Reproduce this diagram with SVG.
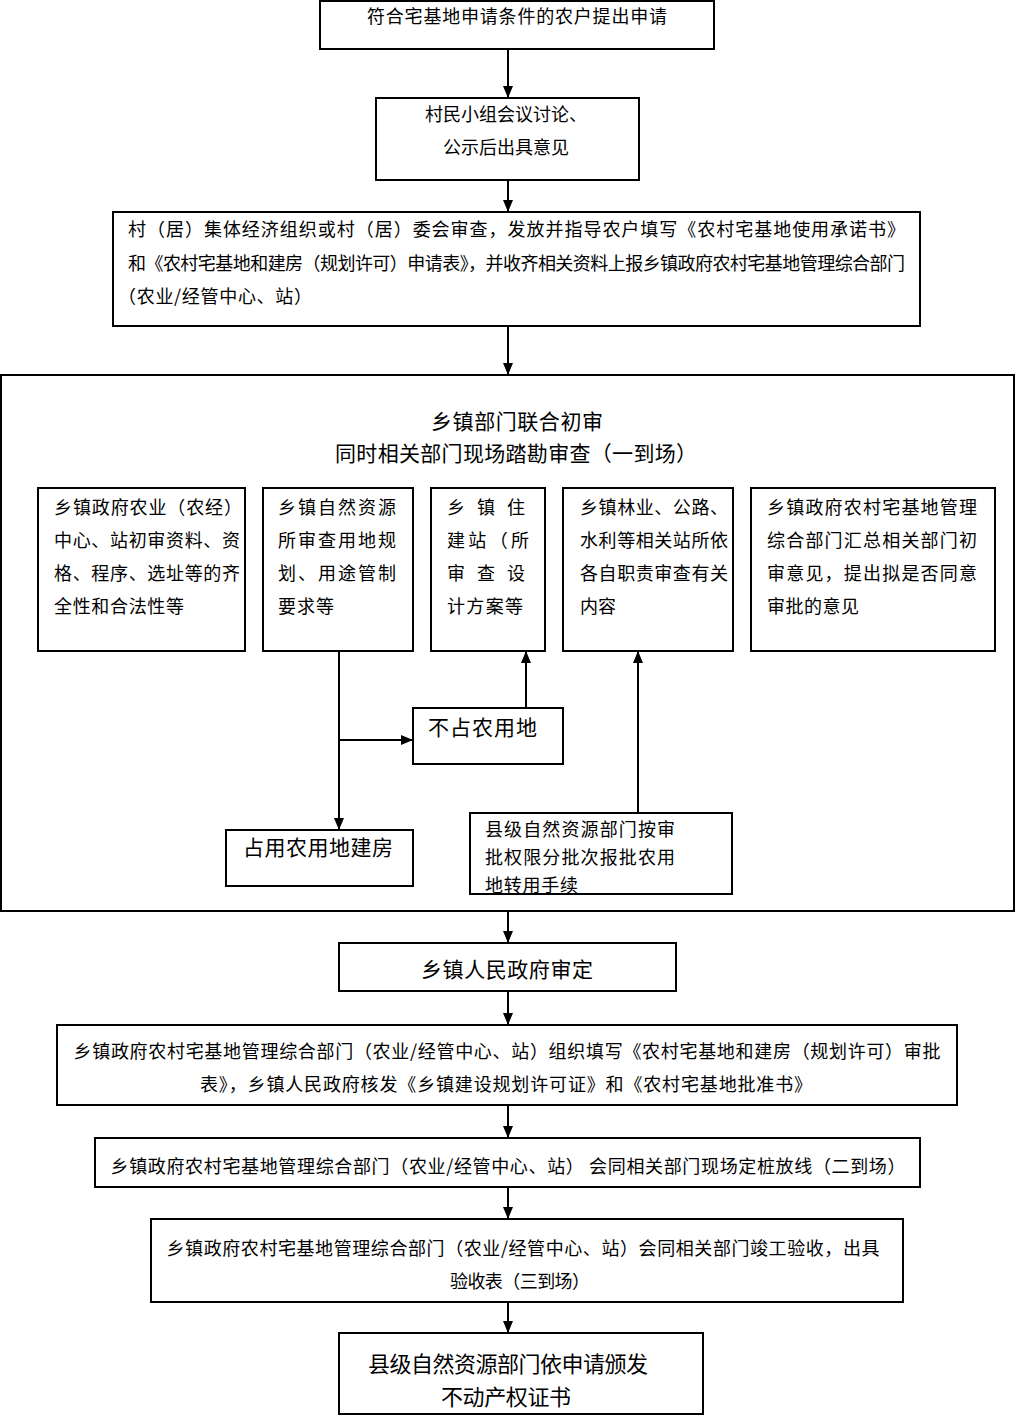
<svg xmlns="http://www.w3.org/2000/svg" width="1015" height="1416" viewBox="0 0 1015 1416">
<style>
rect{fill:#fff;stroke:#000;stroke-width:2}
text{font-family:"Noto Sans CJK SC","Noto Sans CJK JP",sans-serif;font-size:18px;fill:#000;dominant-baseline:central}
.c{text-anchor:middle}
.b{font-size:21px}
.l{stroke:#000;stroke-width:2;fill:none}
</style>
<defs>
<marker id="ah" viewBox="0 0 12 10" refX="12" refY="5" markerWidth="12" markerHeight="10" markerUnits="userSpaceOnUse" orient="auto">
<path d="M0,0 L12,5 L0,10 Z" fill="#000"/>
</marker>
</defs>
<rect x="0" y="0" width="1015" height="1416" style="fill:#fff;stroke:none"/>
<g id="n1"><rect x="320" y="1" width="394" height="48"/><text x="517" y="15" class="c" textLength="300">符合宅基地申请条件的农户提出申请</text></g>
<g id="n2"><rect x="376" y="98" width="263" height="82"/><text x="506" y="113" class="c">村民小组会议讨论、</text><text x="506" y="146" class="c">公示后出具意见</text></g>
<g id="n3"><rect x="113" y="212" width="807" height="114"/>
<text x="128" y="228" textLength="777">村（居）集体经济组织或村（居）委会审查，发放并指导农户填写《农村宅基地使用承诺书》</text>
<text x="128" y="262" textLength="777">和《农村宅基地和建房（规划许可）申请表》，并收齐相关资料上报乡镇政府农村宅基地管理综合部门</text>
<text x="118" y="295" textLength="194">（农业/经管中心、站）</text></g>
<g id="n4"><rect x="1" y="375" width="1013" height="536"/>
<text x="517" y="420" class="c b" textLength="172">乡镇部门联合初审</text>
<text x="516" y="452" class="c b" textLength="362">同时相关部门现场踏勘审查（一到场）</text></g>
<g id="nA"><rect x="38" y="488" width="207" height="163"/>
<text x="54" y="506" textLength="188">乡镇政府农业（农经）</text>
<text x="54" y="539" textLength="186">中心、站初审资料、资</text>
<text x="54" y="572" textLength="186">格、程序、选址等的齐</text>
<text x="54" y="605" textLength="130">全性和合法性等</text></g>
<g id="nB"><rect x="263" y="488" width="150" height="163"/>
<text x="278" y="506" textLength="118">乡镇自然资源</text>
<text x="278" y="539" textLength="118">所审查用地规</text>
<text x="278" y="572" textLength="118">划、用途管制</text>
<text x="278" y="605" textLength="56">要求等</text></g>
<g id="nC"><rect x="431" y="488" width="114" height="163"/>
<text x="447" y="506" textLength="78">乡 镇 住</text>
<text x="447" y="539" textLength="82">建站（所</text>
<text x="447" y="572" textLength="78">审 查 设</text>
<text x="447" y="605" textLength="76">计方案等</text></g>
<g id="nD"><rect x="563" y="488" width="170" height="163"/>
<text x="580" y="506" textLength="148">乡镇林业、公路、</text>
<text x="580" y="539" textLength="148">水利等相关站所依</text>
<text x="580" y="572" textLength="148">各自职责审查有关</text>
<text x="580" y="605" textLength="36">内容</text></g>
<g id="nE"><rect x="751" y="488" width="244" height="163"/>
<text x="767" y="506" textLength="210">乡镇政府农村宅基地管理</text>
<text x="767" y="539" textLength="210">综合部门汇总相关部门初</text>
<text x="767" y="572" textLength="210">审意见，提出拟是否同意</text>
<text x="767" y="605" textLength="92">审批的意见</text></g>
<g id="nF"><rect x="413" y="708" width="150" height="56"/><text x="428" y="726" class="b" textLength="109">不占农用地</text></g>
<g id="nG"><rect x="226" y="830" width="187" height="56"/><text x="243" y="846" class="b" textLength="150">占用农用地建房</text></g>
<g id="nH"><rect x="470" y="813" width="262" height="81"/>
<text x="485" y="828" textLength="190">县级自然资源部门按审</text>
<text x="485" y="856" textLength="190">批权限分批次报批农用</text>
<text x="485" y="884" textLength="93">地转用手续</text></g>
<g id="n5"><rect x="339" y="943" width="337" height="48"/><text x="507" y="968" class="c b" textLength="172">乡镇人民政府审定</text></g>
<g id="n6"><rect x="57" y="1025" width="900" height="80"/>
<text x="507" y="1050" class="c" textLength="867">乡镇政府农村宅基地管理综合部门（农业/经管中心、站）组织填写《农村宅基地和建房（规划许可）审批</text>
<text x="506" y="1083" class="c" textLength="612">表》，乡镇人民政府核发《乡镇建设规划许可证》和《农村宅基地批准书》</text></g>
<g id="n7"><rect x="95" y="1138" width="825" height="49"/>
<text x="508" y="1165" class="c" textLength="795">乡镇政府农村宅基地管理综合部门（农业/经管中心、站） 会同相关部门现场定桩放线（二到场）</text></g>
<g id="n8"><rect x="151" y="1219" width="752" height="83"/>
<text x="523" y="1247" class="c" textLength="713">乡镇政府农村宅基地管理综合部门（农业/经管中心、站）会同相关部门竣工验收，出具</text>
<text x="520" y="1280" class="c" textLength="140">验收表（三到场）</text></g>
<g id="n9"><rect x="339" y="1333" width="364" height="81"/>
<text x="508" y="1362" class="c" style="font-size:22px" textLength="280">县级自然资源部门依申请颁发</text>
<text x="506" y="1395" class="c" style="font-size:22px" textLength="130">不动产权证书</text></g>
<g id="connectors">
<line class="l" x1="508" y1="49" x2="508" y2="98" marker-end="url(#ah)"/>
<line class="l" x1="508" y1="180" x2="508" y2="212" marker-end="url(#ah)"/>
<line class="l" x1="508" y1="326" x2="508" y2="375" marker-end="url(#ah)"/>
<line class="l" x1="339" y1="651" x2="339" y2="830" marker-end="url(#ah)"/>
<line class="l" x1="339" y1="740" x2="413" y2="740" marker-end="url(#ah)"/>
<line class="l" x1="526" y1="708" x2="526" y2="651" marker-end="url(#ah)"/>
<line class="l" x1="638" y1="813" x2="638" y2="651" marker-end="url(#ah)"/>
<line class="l" x1="508" y1="911" x2="508" y2="943" marker-end="url(#ah)"/>
<line class="l" x1="508" y1="991" x2="508" y2="1025" marker-end="url(#ah)"/>
<line class="l" x1="508" y1="1105" x2="508" y2="1138" marker-end="url(#ah)"/>
<line class="l" x1="508" y1="1187" x2="508" y2="1219" marker-end="url(#ah)"/>
<line class="l" x1="508" y1="1302" x2="508" y2="1333" marker-end="url(#ah)"/>
</g>
</svg>
